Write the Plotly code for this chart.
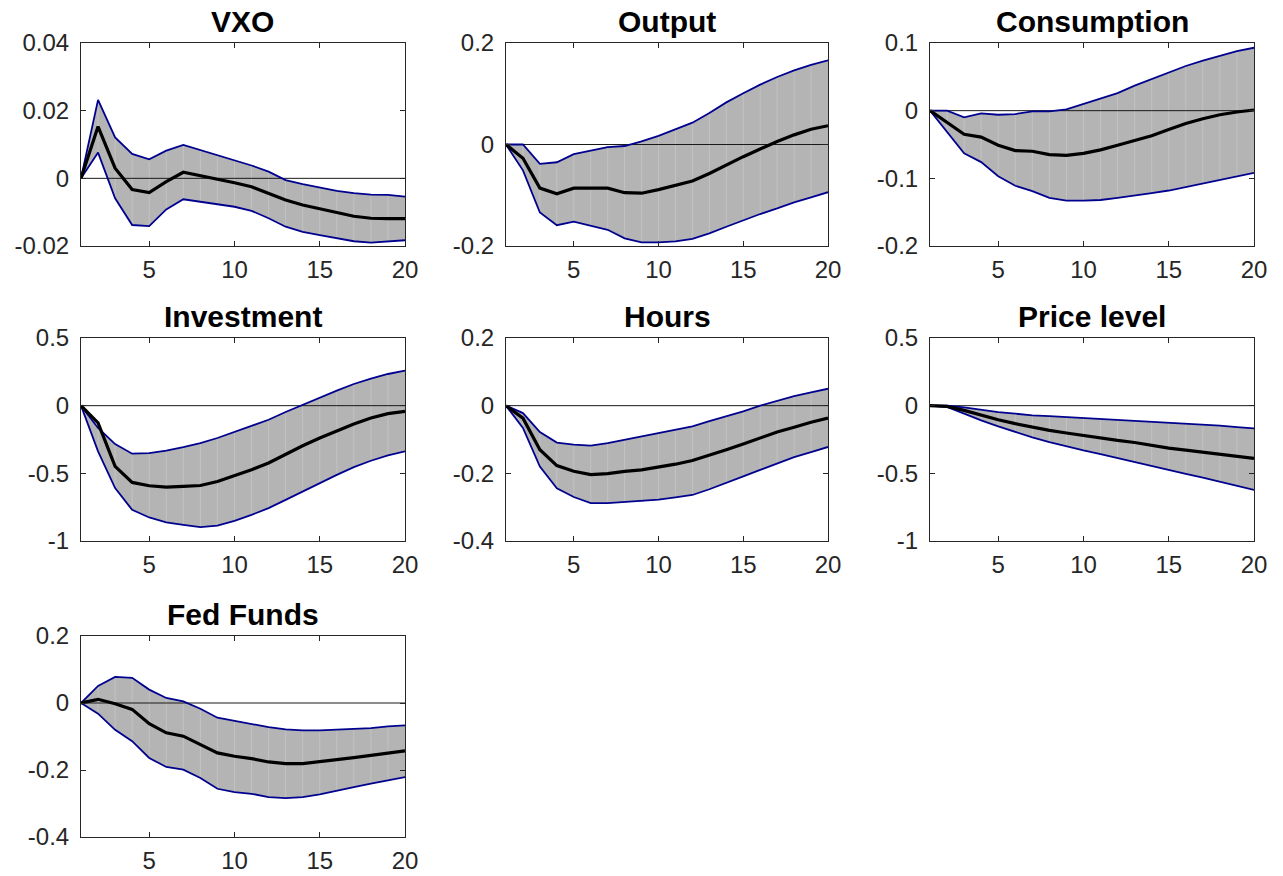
import plotly.graph_objects as go

horizon = list(range(1, 21))
titles = ["VXO", "Output", "Consumption", "Investment", "Hours", "Price level", "Fed Funds"]

vxo_upper = [0, 0.0232, 0.0121, 0.0072, 0.0056, 0.0082, 0.0099, 0.0084, 0.0067, 0.0052,
             0.0038, 0.0020, -0.0005, -0.0017, -0.0027, -0.0037, -0.0044, -0.0048, -0.0049, -0.0054]
vxo_median = [0, 0.0153, 0.0030, -0.0033, -0.0042, -0.0010, 0.0018, 0.0008, -0.0002, -0.0013,
              -0.0025, -0.0044, -0.0064, -0.0079, -0.0091, -0.0101, -0.0112, -0.0118, -0.0119, -0.0119]
vxo_lower = [0, 0.0076, -0.0059, -0.0138, -0.0141, -0.0092, -0.0062, -0.0069, -0.0076, -0.0084,
             -0.0096, -0.0118, -0.0143, -0.0158, -0.0168, -0.0178, -0.0186, -0.0190, -0.0187, -0.0183]

output_upper = [0, 0, -0.038, -0.035, -0.019, -0.012, -0.005, -0.003, 0.006, 0.017,
                0.030, 0.043, 0.062, 0.083, 0.101, 0.118, 0.133, 0.146, 0.157, 0.166]
output_median = [0, -0.027, -0.086, -0.097, -0.086, -0.086, -0.086, -0.095, -0.096, -0.089,
                 -0.081, -0.072, -0.057, -0.040, -0.024, -0.009, 0.006, 0.019, 0.030, 0.037]
output_lower = [0, -0.051, -0.134, -0.159, -0.152, -0.160, -0.168, -0.185, -0.193, -0.193,
                -0.191, -0.186, -0.175, -0.162, -0.149, -0.137, -0.126, -0.114, -0.104, -0.094]

cons_upper = [0, 0, -0.010, -0.004, -0.006, -0.005, -0.001, -0.001, 0.002, 0.010,
              0.017, 0.026, 0.037, 0.047, 0.056, 0.066, 0.074, 0.081, 0.088, 0.093]
cons_median = [0, -0.017, -0.035, -0.039, -0.051, -0.059, -0.060, -0.065, -0.066, -0.063,
               -0.058, -0.051, -0.044, -0.037, -0.028, -0.019, -0.012, -0.006, -0.002, 0.001]
cons_lower = [0, -0.031, -0.063, -0.076, -0.097, -0.111, -0.119, -0.129, -0.133, -0.133,
              -0.132, -0.129, -0.126, -0.122, -0.118, -0.113, -0.107, -0.102, -0.097, -0.092]

inv_upper = [0, -0.165, -0.284, -0.355, -0.350, -0.333, -0.306, -0.276, -0.239, -0.195,
             -0.153, -0.104, -0.047, 0.007, 0.062, 0.111, 0.160, 0.200, 0.234, 0.259]
inv_median = [0, -0.128, -0.449, -0.567, -0.592, -0.602, -0.597, -0.590, -0.560, -0.518,
              -0.474, -0.424, -0.358, -0.296, -0.239, -0.185, -0.136, -0.091, -0.059, -0.042]
inv_lower = [0, -0.338, -0.609, -0.770, -0.826, -0.863, -0.881, -0.898, -0.886, -0.851,
             -0.807, -0.757, -0.696, -0.634, -0.567, -0.511, -0.454, -0.407, -0.368, -0.338]

hours_upper = [0, -0.022, -0.078, -0.109, -0.115, -0.118, -0.111, -0.101, -0.091, -0.081,
               -0.071, -0.061, -0.046, -0.032, -0.017, 0.000, 0.015, 0.028, 0.039, 0.050]
hours_median = [0, -0.037, -0.130, -0.177, -0.194, -0.204, -0.201, -0.194, -0.190, -0.182,
                -0.173, -0.162, -0.147, -0.130, -0.113, -0.096, -0.078, -0.064, -0.049, -0.037]
hours_lower = [0, -0.066, -0.180, -0.244, -0.270, -0.288, -0.288, -0.285, -0.283, -0.278,
               -0.271, -0.264, -0.247, -0.229, -0.209, -0.190, -0.170, -0.152, -0.137, -0.122]

price_upper = [0, 0, -0.012, -0.030, -0.047, -0.059, -0.072, -0.077, -0.084, -0.091,
               -0.096, -0.101, -0.109, -0.116, -0.123, -0.133, -0.141, -0.148, -0.158, -0.168]
price_median = [0, -0.005, -0.035, -0.072, -0.104, -0.133, -0.160, -0.183, -0.202, -0.222,
                -0.240, -0.257, -0.272, -0.294, -0.314, -0.328, -0.343, -0.358, -0.375, -0.390]
price_lower = [0, -0.010, -0.059, -0.109, -0.153, -0.195, -0.235, -0.269, -0.301, -0.331,
               -0.358, -0.388, -0.417, -0.444, -0.474, -0.504, -0.531, -0.560, -0.590, -0.622]

ff_upper = [0, 0.051, 0.078, 0.075, 0.040, 0.015, 0.005, -0.017, -0.044, -0.054,
            -0.062, -0.072, -0.079, -0.082, -0.082, -0.080, -0.078, -0.075, -0.070, -0.067]
ff_median = [0, 0.011, -0.002, -0.019, -0.062, -0.089, -0.099, -0.123, -0.149, -0.159,
             -0.166, -0.176, -0.181, -0.181, -0.176, -0.169, -0.163, -0.156, -0.149, -0.143]
ff_lower = [0, -0.032, -0.080, -0.114, -0.164, -0.191, -0.199, -0.224, -0.256, -0.266,
            -0.271, -0.281, -0.284, -0.281, -0.273, -0.261, -0.251, -0.241, -0.231, -0.221]

uppers = [vxo_upper, output_upper, cons_upper, inv_upper, hours_upper, price_upper, ff_upper]
medians = [vxo_median, output_median, cons_median, inv_median, hours_median, price_median, ff_median]
lowers = [vxo_lower, output_lower, cons_lower, inv_lower, hours_lower, price_lower, ff_lower]

y_ranges = [[-0.02, 0.04], [-0.2, 0.2], [-0.2, 0.1], [-1, 0.5], [-0.4, 0.2], [-1, 0.5], [-0.4, 0.2]]
y_tickvals = [[-0.02, 0, 0.02, 0.04], [-0.2, 0, 0.2], [-0.2, -0.1, 0, 0.1], [-1, -0.5, 0, 0.5],
              [-0.4, -0.2, 0, 0.2], [-1, -0.5, 0, 0.5], [-0.4, -0.2, 0, 0.2]]
y_ticktext = [["-0.02", "0", "0.02", "0.04"], ["-0.2", "0", "0.2"], ["-0.2", "-0.1", "0", "0.1"],
              ["-1", "-0.5", "0", "0.5"], ["-0.4", "-0.2", "0", "0.2"], ["-1", "-0.5", "0", "0.5"],
              ["-0.4", "-0.2", "0", "0.2"]]
x_tickvals = [5, 10, 15, 20]

W, H = 1283, 876
col_px = [(81, 405), (506, 828), (930, 1254)]
row_px = [(43, 246), (338, 541), (636, 837)]

FONT = "Arial, Liberation Sans, Helvetica, sans-serif"
AXC = "#262626"
BLUE = "#00008f"
FILL = "#b4b4b4"

fig = go.Figure()
layout = dict(template="none", width=W, height=H, margin=dict(l=0, r=0, t=0, b=0, pad=0),
              paper_bgcolor="white", plot_bgcolor="white", showlegend=False,
              font=dict(family=FONT, size=24, color=AXC))
annotations = []

for i in range(7):
    r, c = divmod(i, 3)
    n = i + 1
    xa = "x" if n == 1 else f"x{n}"
    ya = "y" if n == 1 else f"y{n}"
    xd = [col_px[c][0] / W, col_px[c][1] / W]
    yd = [1 - row_px[r][1] / H, 1 - row_px[r][0] / H]
    axcommon = dict(showline=True, linecolor=AXC, linewidth=1, mirror="ticks",
                    ticks="inside", ticklen=5, tickwidth=1, tickcolor=AXC,
                    showgrid=False, zeroline=False, automargin=False,
                    tickfont=dict(family=FONT, size=24, color=AXC))
    layout[f"xaxis{n}"] = dict(domain=xd, anchor=ya, range=[1, 20], tickvals=x_tickvals,
                               ticktext=[str(v) for v in x_tickvals], ticklabelstandoff=2,
                               **axcommon)
    layout[f"yaxis{n}"] = dict(domain=yd, anchor=xa, range=y_ranges[i], tickvals=y_tickvals[i],
                               ticktext=y_ticktext[i], ticklabelstandoff=6, **axcommon)

    up, md, lo = uppers[i], medians[i], lowers[i]
    # shaded band
    fig.add_trace(go.Scatter(x=horizon + horizon[::-1], y=up + lo[::-1], fill="toself",
                             fillcolor=FILL, line=dict(width=0), mode="lines",
                             hoverinfo="skip", xaxis=xa, yaxis=ya))
    # faint vertical seams of the band
    vx, vy = [], []
    for h, a, b in zip(horizon[1:-1], lo[1:-1], up[1:-1]):
        vx += [h, h, None]
        vy += [a, b, None]
    fig.add_trace(go.Scatter(x=vx, y=vy, mode="lines",
                             line=dict(color="rgba(255,255,255,0.2)", width=1),
                             hoverinfo="skip", xaxis=xa, yaxis=ya))
    # zero line
    fig.add_trace(go.Scatter(x=[horizon[0], horizon[-1]], y=[0, 0], mode="lines",
                             line=dict(color="#1a1a1a", width=1), xaxis=xa, yaxis=ya))
    fig.add_trace(go.Scatter(x=horizon, y=up, mode="lines", line=dict(color=BLUE, width=1.8),
                             xaxis=xa, yaxis=ya))
    fig.add_trace(go.Scatter(x=horizon, y=lo, mode="lines", line=dict(color=BLUE, width=1.8),
                             xaxis=xa, yaxis=ya))
    fig.add_trace(go.Scatter(x=horizon, y=md, mode="lines", line=dict(color="black", width=3.2),
                             xaxis=xa, yaxis=ya))

    annotations.append(dict(text=f"<b>{titles[i]}</b>", xref="paper", yref="paper",
                            x=(xd[0] + xd[1]) / 2, y=yd[1], xanchor="center", yanchor="middle",
                            yshift=22, showarrow=False,
                            font=dict(family=FONT, size=30, color="black")))

layout["annotations"] = annotations
fig.update_layout(**layout)
fig.write_html("out.html")
